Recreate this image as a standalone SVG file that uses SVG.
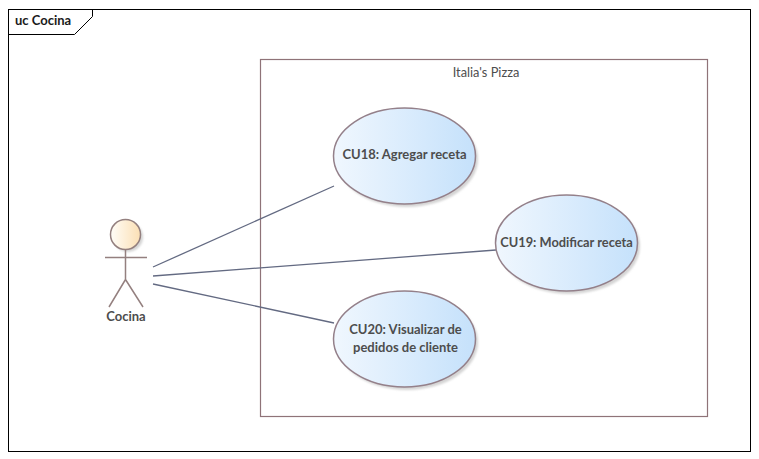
<svg xmlns="http://www.w3.org/2000/svg" width="759" height="459" viewBox="0 0 759 459">
<style>
text{font-family:Lato,"Noto Sans",sans-serif;fill:#4d4d4d}
.b{font-weight:700;font-size:13px;text-anchor:middle}
.uc{fill:url(#g);stroke:#94808a;stroke-width:1.5}
.sh{fill:#d4d4d4}
.c{stroke:#636a82;stroke-width:1.3;fill:none}
.a{stroke:#94807f;stroke-width:1.5;fill:none}
</style>
<defs>
<linearGradient id="g"><stop offset="0" stop-color="#f0f7fe"/><stop offset="1" stop-color="#c5e1fb"/></linearGradient>
<linearGradient id="h"><stop offset="0" stop-color="#fffdf8"/><stop offset="1" stop-color="#fbdfb4"/></linearGradient>
<filter id="bl" x="-10%" y="-10%" width="120%" height="120%"><feGaussianBlur stdDeviation="1"/></filter>
</defs>
<rect width="759" height="459" fill="#fff"/>
<g id="frame">
<rect x="8.500" y="9.500" width="742" height="442" fill="none" stroke="#000" stroke-width="1"/>
<path d="M8.500 34.500H74.500L92.500 16.500V9.500" fill="none" stroke="#000" stroke-width="1"/>
<text x="15" y="25" font-size="13px" font-weight="700" style="fill:#1a1a1a">uc Cocina</text>
</g>
<g id="boundary">
<rect x="260.500" y="59.500" width="447" height="357" fill="none" stroke="#8f7378" stroke-width="1.200"/>
<text x="486" y="77" font-size="12.800" text-anchor="middle">Italia's Pizza</text>
</g>
<g id="connectors">
<line class="c" x1="153" y1="267" x2="334" y2="186"/>
<line class="c" x1="153" y1="276" x2="496" y2="250"/>
<line class="c" x1="153" y1="284" x2="334" y2="323"/>
</g>
<g id="actor-cocina">
<circle cx="128" cy="237" r="15" class="sh" filter="url(#bl)"/>
<circle cx="125.500" cy="234.500" r="15" fill="url(#h)" stroke="#94807f" stroke-width="1.500"/>
<path class="a" d="M125.500 249.500V279.500M105 257.500H147M125.500 279.500L109 307M125.500 279.500L143 307"/>
<text class="b" x="126" y="321">Cocina</text>
</g>
<g id="cu18">
<ellipse class="sh" cx="407" cy="159" rx="71" ry="48" filter="url(#bl)"/>
<ellipse class="uc" cx="404.500" cy="156" rx="71" ry="48"/>
<text class="b" x="404.500" y="159">CU18: Agregar receta</text>
</g>
<g id="cu19">
<ellipse class="sh" cx="569" cy="246" rx="71" ry="48" filter="url(#bl)"/>
<ellipse class="uc" cx="566.500" cy="243" rx="71" ry="48"/>
<text class="b" x="566.500" y="247" font-size="12.800" style="font-size:12.800px">CU19: Modificar receta</text>
</g>
<g id="cu20">
<ellipse class="sh" cx="407" cy="342" rx="71" ry="48" filter="url(#bl)"/>
<ellipse class="uc" cx="404.500" cy="339" rx="71" ry="48"/>
<text class="b" x="405.500" y="334">CU20: Visualizar de</text>
<text class="b" x="405.500" y="352">pedidos de cliente</text>
</g>
</svg>
